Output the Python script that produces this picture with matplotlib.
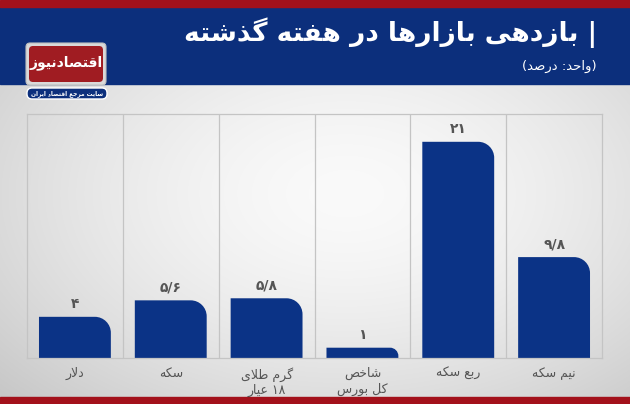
"""
Bazdehi bazarha dar hafte gozashte - bar chart with Persian labels.
matplotlib has no Arabic shaping, so letters are converted to their
presentation forms by hand and the line is reversed for display.
"""

import re
import numpy as np
import matplotlib.pyplot as plt
from matplotlib.path import Path
from matplotlib.patches import PathPatch, FancyBboxPatch, Rectangle

# ---------------------------------------------------------------------
# Data
# ---------------------------------------------------------------------
categories = ['دلار', 'سکه', 'گرم طلای\n۱۸ عیار', 'شاخص\nکل بورس', 'ربع سکه', 'نیم سکه']
values = [4, 5.6, 5.8, 1, 21, 9.8]

title = '| بازدهی بازارها در هفته گذشته'
subtitle = '(واحد: درصد)'
logo_text = 'اقتصادنیوز'
logo_tagline = 'سایت مرجع اقتصاد ایران'

# ---------------------------------------------------------------------
# Minimal Persian shaping
# ---------------------------------------------------------------------
# char -> (isolated, final, initial, medial); None = right-joining only
FORMS = {
    'ا': ('\uFE8D', '\uFE8E', None, None),
    'ب': ('\uFE8F', '\uFE90', '\uFE91', '\uFE92'),
    'ت': ('\uFE95', '\uFE96', '\uFE97', '\uFE98'),
    'ج': ('\uFE9D', '\uFE9E', '\uFE9F', '\uFEA0'),
    'ح': ('\uFEA1', '\uFEA2', '\uFEA3', '\uFEA4'),
    'خ': ('\uFEA5', '\uFEA6', '\uFEA7', '\uFEA8'),
    'د': ('\uFEA9', '\uFEAA', None, None),
    'ذ': ('\uFEAB', '\uFEAC', None, None),
    'ر': ('\uFEAD', '\uFEAE', None, None),
    'ز': ('\uFEAF', '\uFEB0', None, None),
    'س': ('\uFEB1', '\uFEB2', '\uFEB3', '\uFEB4'),
    'ش': ('\uFEB5', '\uFEB6', '\uFEB7', '\uFEB8'),
    'ص': ('\uFEB9', '\uFEBA', '\uFEBB', '\uFEBC'),
    'ط': ('\uFEC1', '\uFEC2', '\uFEC3', '\uFEC4'),
    'ع': ('\uFEC9', '\uFECA', '\uFECB', '\uFECC'),
    'ف': ('\uFED1', '\uFED2', '\uFED3', '\uFED4'),
    'ق': ('\uFED5', '\uFED6', '\uFED7', '\uFED8'),
    'ک': ('\uFB8E', '\uFB8F', '\uFB90', '\uFB91'),
    'گ': ('\uFB92', '\uFB93', '\uFB94', '\uFB95'),
    'ل': ('\uFEDD', '\uFEDE', '\uFEDF', '\uFEE0'),
    'م': ('\uFEE1', '\uFEE2', '\uFEE3', '\uFEE4'),
    'ن': ('\uFEE5', '\uFEE6', '\uFEE7', '\uFEE8'),
    'ه': ('\uFEE9', '\uFEEA', '\uFEEB', '\uFEEC'),
    'و': ('\uFEED', '\uFEEE', None, None),
    'ی': ('\uFBFC', '\uFBFD', '\uFBFE', '\uFBFF'),
}


def joins_next(c):
    return c in FORMS and FORMS[c][2] is not None


def shape(text):
    out = []
    i, n = 0, len(text)
    while i < n:
        c = text[i]
        jp = i > 0 and joins_next(text[i - 1])
        if c == 'ل' and i + 1 < n and text[i + 1] == 'ا':
            out.append('\uFEFC' if jp else '\uFEFB')
            i += 2
            continue
        if c not in FORMS:
            out.append(c)
            i += 1
            continue
        jn = joins_next(c) and i + 1 < n and text[i + 1] in FORMS
        iso, fin, ini, med = FORMS[c]
        if jp and jn:
            out.append(med)
        elif jp:
            out.append(fin)
        elif jn:
            out.append(ini)
        else:
            out.append(iso)
        i += 1
    return ''.join(out)


def rtl(s):
    lines = []
    for line in s.split('\n'):
        v = shape(line)[::-1]
        v = re.sub(r'[۰-۹0-9/.]+', lambda m: m.group(0)[::-1], v)
        v = v.translate(str.maketrans('()', ')('))
        lines.append(v)
    return '\n'.join(lines)


def fa_number(v):
    s = f'{v:g}'.replace('.', '/')
    return s.translate(str.maketrans('0123456789', '۰۱۲۳۴۵۶۷۸۹'))


plt.rcParams['font.family'] = ['DejaVu Sans']

W, H = 630, 404
fig = plt.figure(figsize=(W / 100, H / 100), dpi=100)

# ---------------------------------------------------------------------
# Background layer in pixel coordinates
# ---------------------------------------------------------------------
bg = fig.add_axes([0, 0, 1, 1])
bg.set_xlim(0, W)
bg.set_ylim(H, 0)
bg.axis('off')

# gray radial gradient for the body
yy, xx = np.mgrid[0:1:313j, 0:1:630j]
d = np.sqrt(((xx - 0.55) / 0.75) ** 2 + ((yy - 0.35) / 0.95) ** 2)
g = np.clip(0.98 - 0.2 * d ** 1.6, 0.74, 1.0)
bg.imshow(np.dstack([g, g, g]), extent=[0, W, 397, 84], aspect='auto', zorder=0)

# header and red strips
bg.add_patch(Rectangle((0, 7), W, 77, color='#0c2f7c', zorder=1))
bg.add_patch(Rectangle((0, 0), W, 7, color='#a3111b', zorder=1))
bg.add_patch(Rectangle((0, 397), W, 7, color='#a3111b', zorder=1))

bg.text(597, 33, rtl(title), color='white', fontsize=19, fontweight='bold',
        ha='right', va='center', zorder=3)
bg.text(597, 66, rtl(subtitle), color='white', fontsize=9.5,
        ha='right', va='center', zorder=3)

# logo
bg.add_patch(FancyBboxPatch((26, 43), 80, 42, boxstyle='round,pad=0,rounding_size=4',
                            fc='#d9d9d9', ec='#bfbfbf', lw=0.8, zorder=2))
bg.add_patch(FancyBboxPatch((29, 46), 74, 36, boxstyle='round,pad=0,rounding_size=4',
                            fc='#a01c22', ec='none', zorder=3))
bg.text(66, 63, rtl(logo_text), color='white', fontsize=10, fontweight='bold',
        ha='center', va='center', zorder=4)
bg.add_patch(FancyBboxPatch((27, 88), 80, 11, boxstyle='round,pad=0,rounding_size=5',
                            fc='#0c2f7c', ec='white', lw=1, zorder=3))
bg.text(67, 93.5, rtl(logo_tagline), color='white', fontsize=4.2, fontweight='bold',
        ha='center', va='center', zorder=4)

# ---------------------------------------------------------------------
# Bar chart
# ---------------------------------------------------------------------
ax = fig.add_axes([27 / W, (H - 358) / H, (602 - 27) / W, (358 - 114) / H])
ax.patch.set_alpha(0)
ax.set_xlim(-0.5, len(values) - 0.5)
ax.set_ylim(0, 23.7)
for s in ax.spines.values():
    s.set_color('#c4c4c4')
    s.set_linewidth(0.9)
ax.set_xticks([])
ax.set_yticks([])
for i in range(1, len(values)):
    ax.axvline(i - 0.5, color='#c4c4c4', lw=0.9)

sx = ax.bbox.width / (ax.get_xlim()[1] - ax.get_xlim()[0])
sy = ax.bbox.height / (ax.get_ylim()[1] - ax.get_ylim()[0])
bar_w = 0.75
k = 0.5523

for i, v in enumerate(values):
    r = min(16, v * sy * 0.8)
    rx, ry = r / sx, r / sy
    L, R = i - bar_w / 2, i + bar_w / 2
    verts = [(L, 0), (L, v), (R - rx, v), (R - rx + k * rx, v),
             (R, v - ry + k * ry), (R, v - ry), (R, 0), (L, 0)]
    codes = [Path.MOVETO, Path.LINETO, Path.LINETO, Path.CURVE4,
             Path.CURVE4, Path.CURVE4, Path.LINETO, Path.CLOSEPOLY]
    ax.add_patch(PathPatch(Path(verts, codes), fc='#0b3386', ec='none'))
    ax.annotate(fa_number(v), (i, v), xytext=(0, 4), textcoords='offset points',
                ha='center', va='bottom', fontsize=10, fontweight='bold',
                color='#555555')
    ax.text(i, -0.9, rtl(categories[i]), ha='center', va='top', fontsize=9,
            color='#555555', linespacing=1.2)

fig.savefig('out.png', dpi=100)
